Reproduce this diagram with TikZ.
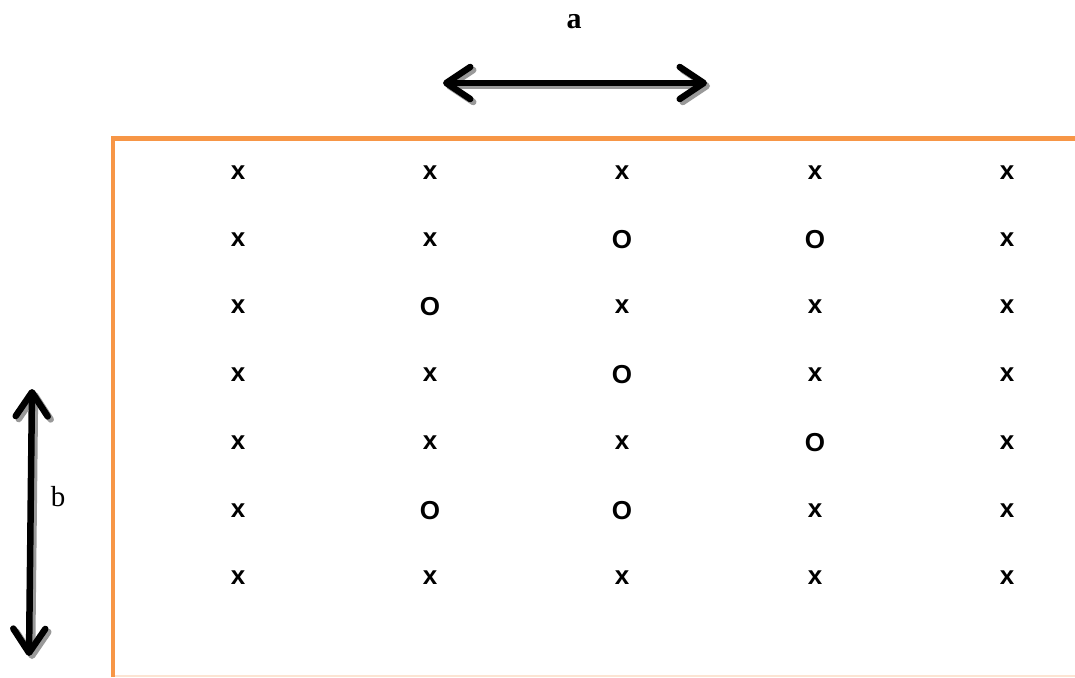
\documentclass[tikz,border=0pt]{standalone}
\usepackage{fontspec}
\setmainfont{Liberation Serif}
\newfontfamily\cellfont{Liberation Sans Bold}
\usetikzlibrary{arrows.meta}
\definecolor{borderorange}{HTML}{F79646}
\definecolor{faintorange}{HTML}{FCE4D3}
\tikzset{
  cell/.style={font=\cellfont\fontsize{26}{28}\selectfont, inner sep=0pt, anchor=center},
  dimarrow/.style={line width=6.5pt, line cap=round,
    {Straight Barb[length=24pt,width=32pt,line cap=round,line join=round]}-{Straight Barb[length=24pt,width=32pt,line cap=round,line join=round]}},
  shadowarrow/.style={dimarrow, draw=black!40},
  border/.style={draw=borderorange, line width=4.5pt}
}
\begin{document}
\begin{tikzpicture}[x=1pt,y=-1pt]
\useasboundingbox (0,0) rectangle (1075,677);
% border
\draw[faintorange, line width=1.2pt] (113,676) -- (1075,676);
\draw[border] (113,677) -- (113,138.5) -- (1075,138.5);
% arrows
\coordinate (hl) at (443,83);
\coordinate (hr) at (707,83);
\coordinate (vt) at (32,389);
\coordinate (vb) at (29,656);
\draw[shadowarrow] ([shift={(3,3)}]hl) -- ([shift={(3,3)}]hr);
\draw[dimarrow] (hl) -- (hr);
\draw[shadowarrow] ([shift={(3,3)}]vt) -- ([shift={(3,3)}]vb);
\draw[dimarrow] (vt) -- (vb);
\node[font=\bfseries\fontsize{30}{32}\selectfont, inner sep=0pt] (la) at (574,22) {a};
\node[font=\fontsize{29}{31}\selectfont, inner sep=0pt] (lb) at (58,497) {b};
% grid
\foreach \r/\yy/\row in {1/173/{x,x,x,x,x},2/240/{x,x,O,O,x},3/307/{x,O,x,x,x},4/375/{x,x,O,x,x},5/443/{x,x,x,O,x},6/511/{x,O,O,x,x},7/578/{x,x,x,x,x}}{
  \foreach \s [count=\c] in \row {
    \pgfmathsetmacro{\xx}{{238,430,622,815,1007}[\c-1]}
    \node[cell] (c\r-\c) at (\xx,\yy) {\s};
  }
}
\end{tikzpicture}
\end{document}
